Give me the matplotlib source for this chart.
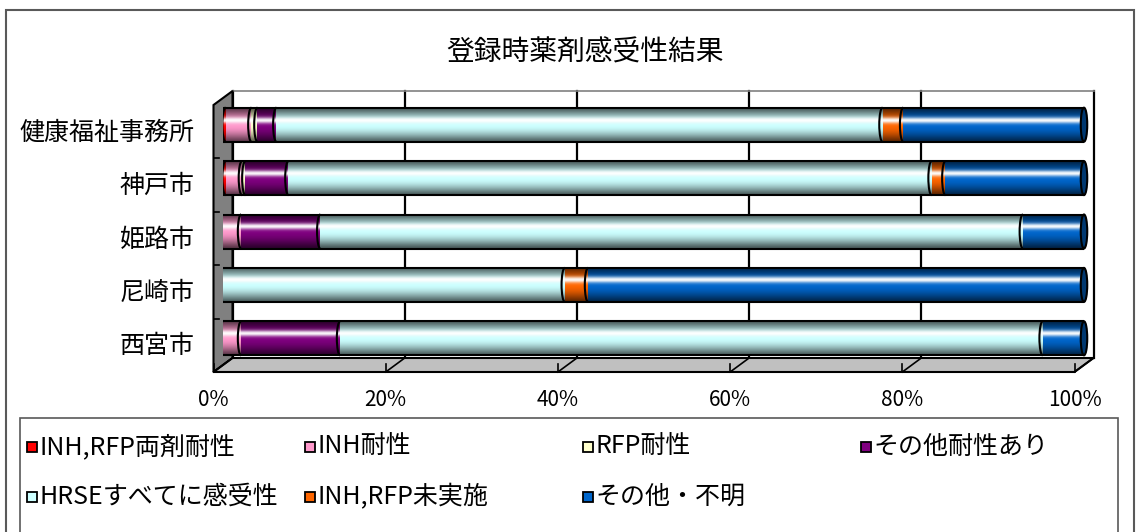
import numpy as np
import matplotlib
matplotlib.use('Agg')
import matplotlib.pyplot as plt
from matplotlib.patches import Polygon, Rectangle, Arc, Ellipse

plt.rcParams['font.family'] = ['Noto Sans CJK JP', 'DejaVu Sans']

# categories (top to bottom) and percentage shares per series
categories = ['健康福祉事務所', '神戸市', '姫路市', '尼崎市', '西宮市']
series = ['INH,RFP両剤耐性', 'INH耐性', 'RFP耐性', 'その他耐性あり',
          'HRSEすべてに感受性', 'INH,RFP未実施', 'その他・不明']
both_res = [0.3, 0.3, 0.0, 0.0, 0.0]
inh_res = [3.0, 1.9, 2.1, 0.0, 2.1]
rfp_res = [0.7, 0.4, 0.0, 0.0, 0.0]
other_res = [2.2, 5.0, 9.2, 0.0, 11.5]
all_sens = [70.4, 74.7, 81.6, 39.7, 81.6]
not_done = [2.4, 1.6, 0.0, 2.7, 0.0]
unknown = [21.0, 16.1, 7.1, 57.6, 4.8]
ticks = [0, 20, 40, 60, 80, 100]

colors = ['#FF0000', '#FF99CC', '#FFFFCC', '#800080', '#CCFFFF', '#FF6600', '#0066CC']

W, H = 1141, 532
fig = plt.figure(figsize=(W / 100, H / 100), dpi=100)

# outer chart frame
fig.add_artist(Rectangle((6 / W, -0.1), 1128 / W, 1 - 10 / H + 0.1, transform=fig.transFigure,
                         fill=False, ec='#595959', lw=1.5))

fig.text(585 / W, 1 - 53 / H, '登録時薬剤感受性結果', ha='center', va='center', fontsize=20)

# axes = middle depth of the 3d box
x0, x1, ytop, ybot = 223, 1084, 98, 365
ax = fig.add_axes([x0 / W, 1 - ybot / H, (x1 - x0) / W, (ybot - ytop) / H])
ax.axis('off')
ax.set_xlim(0, 100)
ax.set_ylim(4.5, -0.5)

pxx = (x1 - x0) / 100.0
pxy = (ybot - ytop) / 5.0
dx = 9.5 / pxx
dy = 7.0 / pxy

# back wall grid lines
for g in ticks:
    ax.plot([g + dx, g + dx], [-0.5 - dy, 4.5 - dy], color='black', lw=1.6, clip_on=False, zorder=1)
ax.plot([dx, 100 + dx], [-0.5 - dy, -0.5 - dy], color='#808080', lw=1.2, clip_on=False, zorder=1)

# left wall and floor
ax.add_patch(Polygon([(dx, -0.5 - dy), (dx, 4.5 - dy), (-dx, 4.5 + dy), (-dx, -0.5 + dy)],
                     closed=True, fc='#808080', ec='black', lw=1.5, clip_on=False, zorder=1))
ax.add_patch(Polygon([(dx, 4.5 - dy), (100 + dx, 4.5 - dy), (100 - dx, 4.5 + dy), (-dx, 4.5 + dy)],
                     closed=True, fc='#C0C0C0', ec='black', lw=1.5, clip_on=False, zorder=1))
for g in ticks:
    ax.plot([g + dx, g - dx], [4.5 - dy, 4.5 + dy], color='black', lw=1.2, clip_on=False, zorder=1)
    ax.plot([g - dx, g - dx], [4.5 + dy, 4.5 + dy - 0.15], color='black', lw=1.2, clip_on=False, zorder=1)
    ax.text(g - dx, 4.5 + 35 / pxy, f'{g}%', ha='center', va='center', fontsize=15)
for b in [0.5, 1.5, 2.5, 3.5]:
    ax.plot([-dx, -dx + 0.6], [b + dy, b + dy], color='black', lw=1.2, clip_on=False, zorder=1)

for i, name in enumerate(categories):
    ax.text(-dx - 2.2, i + 8 / pxy, name, ha='right', va='center', fontsize=18)


def shade(c, n=64):
    rgb = np.array(matplotlib.colors.to_rgb(c))
    t = np.linspace(0, 1, n)
    dark = 0.35 + 0.65 * np.sin(np.pi * t) ** 1.2
    hi = np.exp(-((t - 0.36) / 0.09) ** 2) * 0.97
    col = rgb[None, :] * dark[:, None]
    col = col * (1 - hi[:, None]) + hi[:, None]
    return np.clip(col, 0, 1)[:, None, :]


data = np.array([both_res, inh_res, rfp_res, other_res, all_sens, not_done, unknown]).T
h = 34 / pxy
aw = 6.5 / pxx
for i, row in enumerate(data):
    row = row / row.sum() * 100
    left = 0.0
    last = None
    for j, v in enumerate(row):
        if v <= 0:
            continue
        ax.imshow(shade(colors[j]), extent=(left, left + v, i + h / 2, i - h / 2), origin='upper',
                  aspect='auto', interpolation='bilinear', zorder=3)
        ax.add_patch(Arc((left, i), aw, h, theta1=90, theta2=270, ec='black', lw=1.5, zorder=4))
        left += v
        last = j
    cap = np.array(matplotlib.colors.to_rgb(colors[last])) * 0.55
    ax.add_patch(Ellipse((100, i), aw, h, fc=cap, ec='black', lw=1.5, zorder=4, clip_on=False))
    ax.plot([0, 100], [i - h / 2, i - h / 2], color='black', lw=1.5, zorder=4)
    ax.plot([0, 100], [i + h / 2, i + h / 2], color='black', lw=1.5, zorder=4)

ax.set_xlim(0, 100)
ax.set_ylim(4.5, -0.5)

# legend
fig.add_artist(Rectangle((20 / W, -0.1), 1098 / W, 1 - 418 / H + 0.1, transform=fig.transFigure,
                         fill=False, ec='#595959', lw=1.2))
for k, (name, c) in enumerate(zip(series, colors)):
    col, r = k % 4, k // 4
    mx = 27 + 278 * col
    my = 447 + 50 * r
    fig.add_artist(Rectangle((mx / W, 1 - (my + 5) / H), 10 / W, 10 / H, transform=fig.transFigure,
                             fc=c, ec='black', lw=1.3))
    fig.text((mx + 12) / W, 1 - my / H, name, ha='left', va='center', fontsize=18)

fig.savefig('out.png', dpi=100)
